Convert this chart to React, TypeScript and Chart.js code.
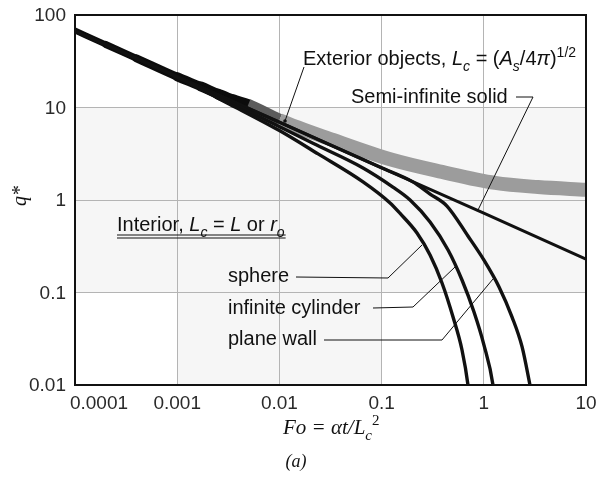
import React, { useEffect, useRef } from 'react';
import { Chart, registerables } from 'chart.js';
Chart.register(...registerables);

// ---- data ----
const xTickValues = [0.0001, 0.001, 0.01, 0.1, 1, 10];
const xTickLabels = ['0.0001', '0.001', '0.01', '0.1', '1', '10'];
const yTickValues = [0.01, 0.1, 1, 10, 100];
const yTickLabels = ['0.01', '0.1', '1', '10', '100'];

const foSemi = [0.0001, 0.001, 0.01, 0.1, 1, 10];
const qSemi = [67, 21.6, 6.93, 2.23, 0.72, 0.23];

const foExterior = [0.0001, 0.0002, 0.0004, 0.001, 0.0017, 0.0025, 0.0035, 0.00493, 0.01, 0.0334, 0.129, 0.39, 1.29, 3.39, 10];
const qExterior = [68, 48, 34, 21.5, 16.9, 14.0, 12.0, 10.6, 7.3, 4.46, 2.7, 2.01, 1.53, 1.38, 1.29];

const foSphere = [0.0001, 0.001, 0.00329, 0.0101, 0.0239, 0.0658, 0.121, 0.151, 0.222, 0.298, 0.39, 0.5, 0.612, 0.7, 0.716];
const qSphere = [67, 21.2, 10.8, 5.6, 3.15, 1.57, 0.93, 0.72, 0.44, 0.254, 0.1267, 0.0543, 0.0239, 0.01, 0.0078];

const foCylinder = [0.0001, 0.001, 0.00515, 0.0213, 0.0658, 0.129, 0.19, 0.298, 0.447, 0.612, 0.802, 1.004, 1.23, 1.26];
const qCylinder = [67, 21.5, 8.94, 4.1, 2.22, 1.38, 1.0, 0.578, 0.288, 0.1365, 0.0615, 0.027, 0.01, 0.0078];

const foPlane = [0.0001, 0.001, 0.01, 0.1, 0.2, 0.298, 0.436, 0.7, 1.004, 1.41, 1.89, 2.37, 2.83, 2.96];
const qPlane = [67, 21.6, 6.93, 2.23, 1.58, 1.16, 0.86, 0.408, 0.224, 0.115, 0.0543, 0.0258, 0.01, 0.0078];

const pts = (xs: number[], ys: number[]) => xs.map((x, i) => ({ x, y: ys[i] }));

const SANS = '"Liberation Sans", Arial, sans-serif';
const SERIF = '"Liberation Serif", "Times New Roman", serif';

type Run = { t: string; it?: boolean; sub?: boolean; sup?: boolean; serif?: boolean };

function drawRuns(ctx: CanvasRenderingContext2D, runs: Run[], x: number, y: number, size: number) {
  let cx = x;
  ctx.textBaseline = 'alphabetic';
  ctx.textAlign = 'left';
  for (const r of runs) {
    const s = r.sub || r.sup ? Math.round(size * 0.7) : size;
    const fam = r.serif ? SERIF : SANS;
    ctx.font = `${r.it ? 'italic ' : ''}${s}px ${fam}`;
    const dy = r.sub ? size * 0.28 : r.sup ? -size * 0.42 : 0;
    ctx.fillText(r.t, cx, y + dy);
    cx += ctx.measureText(r.t).width;
  }
  return cx;
}

function polyline(ctx: CanvasRenderingContext2D, p: number[][]) {
  ctx.beginPath();
  ctx.moveTo(p[0][0], p[0][1]);
  for (let i = 1; i < p.length; i++) ctx.lineTo(p[i][0], p[i][1]);
  ctx.stroke();
}

const decor = {
  id: 'decor',
  beforeDraw(chart: any) {
    const { ctx, scales } = chart;
    const x = scales.x, y = scales.y;
    ctx.save();
    ctx.fillStyle = '#f6f6f6';
    const rect = (x0: number, x1: number, y0: number, y1: number) => {
      const px0 = x.getPixelForValue(x0), px1 = x.getPixelForValue(x1);
      const py0 = y.getPixelForValue(y0), py1 = y.getPixelForValue(y1);
      ctx.fillRect(px0, py1, px1 - px0, py0 - py1);
    };
    rect(0.0001, 10, 0.1, 10);
    rect(0.001, 0.1, 0.01, 0.1);
    ctx.restore();
  },
  afterDatasetsDraw(chart: any) {
    const { ctx, chartArea: a, scales } = chart;
    const x = scales.x, y = scales.y;
    ctx.save();
    // frame
    ctx.strokeStyle = '#111';
    ctx.lineWidth = 2;
    ctx.strokeRect(a.left, a.top, a.right - a.left, a.bottom - a.top);

    // tick labels
    ctx.fillStyle = '#2a2a2a';
    ctx.font = `19px ${SANS}`;
    ctx.textBaseline = 'middle';
    ctx.textAlign = 'center';
    xTickValues.forEach((v, i) => {
      const off = i === 0 ? 24 : 0;
      ctx.fillText(xTickLabels[i], x.getPixelForValue(v) + off, a.bottom + 19);
    });
    ctx.textAlign = 'right';
    yTickValues.forEach((v, i) => {
      ctx.fillText(yTickLabels[i], a.left - 9, y.getPixelForValue(v) + 1);
    });

    // axis titles
    ctx.fillStyle = '#111';
    drawRuns(ctx, [
      { t: 'Fo = \u03b1t/L', it: true, serif: true },
      { t: 'c', it: true, serif: true, sub: true },
      { t: '2', serif: true, sup: true },
    ], 283, 434, 21);
    ctx.font = `italic 18px ${SERIF}`;
    ctx.textAlign = 'center';
    ctx.textBaseline = 'middle';
    ctx.fillText('(a)', 296, 462);
    ctx.save();
    ctx.translate(21, 196);
    ctx.rotate(-Math.PI / 2);
    ctx.font = `italic 20px ${SERIF}`;
    ctx.fillText('q*', 0, 0);
    ctx.restore();

    // annotations
    ctx.fillStyle = '#111';
    drawRuns(ctx, [
      { t: 'Exterior objects, ' },
      { t: 'L', it: true },
      { t: 'c', it: true, sub: true },
      { t: ' = (' },
      { t: 'A', it: true },
      { t: 's', it: true, sub: true },
      { t: '/4' },
      { t: '\u03c0', it: true },
      { t: ')' },
      { t: '1/2', sup: true },
    ], 303, 65, 20);
    drawRuns(ctx, [{ t: 'Semi-infinite solid' }], 351, 103, 20);
    const intEnd = drawRuns(ctx, [
      { t: 'Interior, ' },
      { t: 'L', it: true },
      { t: 'c', it: true, sub: true },
      { t: ' = ' },
      { t: 'L', it: true },
      { t: ' or ' },
      { t: 'r', it: true },
      { t: 'o', it: true, sub: true },
    ], 117, 231, 20);
    drawRuns(ctx, [{ t: 'sphere' }], 228, 282, 20);
    drawRuns(ctx, [{ t: 'infinite cylinder' }], 228, 314, 20);
    drawRuns(ctx, [{ t: 'plane wall' }], 228, 345, 20);

    ctx.strokeStyle = '#111';
    ctx.lineWidth = 1.2;
    polyline(ctx, [[117, 235], [intEnd + 1, 235]]);
    polyline(ctx, [[117, 238], [intEnd + 1, 238]]);

    ctx.lineWidth = 1;
    polyline(ctx, [[304, 67], [285, 121]]);
    ctx.beginPath();
    ctx.arc(285, 121, 1.8, 0, Math.PI * 2);
    ctx.fill();
    polyline(ctx, [[516, 97], [533, 97], [478, 210]]);
    polyline(ctx, [[296, 277], [388, 278], [422, 245]]);
    polyline(ctx, [[373, 308], [413, 307], [455, 267]]);
    polyline(ctx, [[324, 340], [442, 340], [493, 279]]);
    ctx.restore();
  },
};

const bandColors = (xv: number) => (xv < 0.0045 ? '#0c0c0c' : xv < 0.009 ? '#5c5c5c' : '#9c9c9c');
const bandCaps = (xv: number) => (xv < 0.0045 ? 'round' : 'butt');
const bandWidths = [6, 7, 8, 9, 10, 11, 12, 13];

export default function App() {
  const ref = useRef<HTMLCanvasElement | null>(null);
  useEffect(() => {
    if (!ref.current) return;
    const lineCommon = {
      borderColor: '#111',
      borderWidth: 3.4,
      pointRadius: 0,
      fill: false,
      clip: 0,
      borderJoinStyle: 'round' as const,
      borderCapStyle: 'round' as const,
    };
    const chart = new Chart(ref.current, {
      type: 'line',
      data: {
        datasets: [
          {
            label: 'Exterior objects',
            data: pts(foExterior, qExterior),
            borderColor: '#9c9c9c',
            borderWidth: 14,
            pointRadius: 0,
            fill: false,
            clip: 0,
            cubicInterpolationMode: 'monotone',
            borderCapStyle: 'butt',
            borderJoinStyle: 'round',
            order: 5,
            segment: {
              borderColor: (c: any) => bandColors(c.p0.parsed.x),
              borderCapStyle: (c: any) => bandCaps(c.p0.parsed.x),
              borderWidth: (c: any) => bandWidths[c.p0DataIndex] ?? 14,
            },
          } as any,
          { label: 'Semi-infinite solid', data: pts(foSemi, qSemi), ...lineCommon, borderWidth: 3, tension: 0, order: 1 },
          { label: 'sphere', data: pts(foSphere, qSphere), ...lineCommon, cubicInterpolationMode: 'monotone', order: 0 },
          { label: 'infinite cylinder', data: pts(foCylinder, qCylinder), ...lineCommon, cubicInterpolationMode: 'monotone', order: 0 },
          { label: 'plane wall', data: pts(foPlane, qPlane), ...lineCommon, cubicInterpolationMode: 'monotone', order: 0 },
        ],
      },
      options: {
        animation: false,
        responsive: false,
        devicePixelRatio: 1,
        parsing: false as any,
        normalized: true,
        layout: { padding: { left: 75, top: 15, right: 11, bottom: 92 } },
        plugins: { legend: { display: false }, tooltip: { enabled: false } },
        events: [],
        scales: {
          x: {
            type: 'logarithmic',
            min: 0.0001,
            max: 10,
            ticks: { display: false },
            grid: { color: '#b4b4b4', lineWidth: 1, drawTicks: false },
            border: { display: false },
            afterBuildTicks: (s: any) => { s.ticks = xTickValues.map((v) => ({ value: v })); },
          },
          y: {
            type: 'logarithmic',
            min: 0.01,
            max: 100,
            ticks: { display: false },
            grid: { color: '#b4b4b4', lineWidth: 1, drawTicks: false },
            border: { display: false },
            afterBuildTicks: (s: any) => { s.ticks = yTickValues.map((v) => ({ value: v })); },
          },
        },
      },
      plugins: [decor],
    } as any);
    return () => chart.destroy();
  }, []);
  return (
    <div style={{ position: 'absolute', left: 0, top: 0, width: 597, height: 477, background: '#fff' }}>
      <canvas ref={ref} width={597} height={477} style={{ display: 'block', width: 597, height: 477 }} />
    </div>
  );
}
